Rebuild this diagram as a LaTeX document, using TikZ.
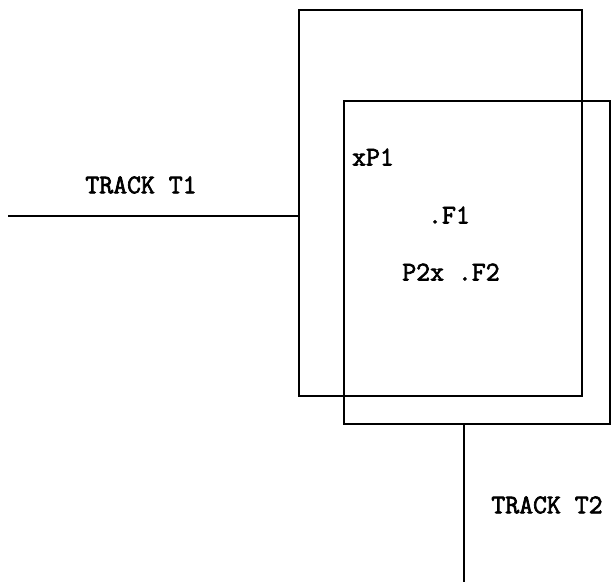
\documentclass[tikz,border=0pt]{standalone}
\usepackage{fontspec}
\setmonofont{Latin Modern Mono}[BoldFont={Latin Modern Mono}, BoldFeatures={FakeBold=2.5}]
\usetikzlibrary{positioning}

\begin{document}
\begin{tikzpicture}[
        x=1pt, y=-1pt,
        region/.style={rectangle, draw, line width=2.2pt, inner sep=0pt},
        track/.style={line width=2.2pt},
        lbl/.style={font=\fontsize{27}{30}\selectfont\ttfamily\bfseries, inner sep=0pt}
    ]
        \useasboundingbox (0,0) rectangle (611,586);
        % Regions
        \node[region, minimum width=283pt, minimum height=386pt] (outer) at (440.5,203) {};
        \node[region, minimum width=266pt, minimum height=323pt] (inner) at (477,262.5) {};
        
        % Labels
        \node[lbl] (t1label) at (141,185) {TRACK T1};
        \node[lbl] (p1) at (373,157) {xP1};
        \node[lbl] (f1) at (449,215) {.F1};
        \node[lbl] (p2f2) at (451,272) {P2x .F2};
        \node[lbl] (t2label) at (547,505) {TRACK T2};
        
        % Tracks
        \coordinate (t1end) at (8,216);
        \coordinate (t2end) at (464,582);
        \draw[track] (t1end) -- (t1end -| outer.west);
        \draw[track] (t2end |- inner.south) -- (t2end);
    \end{tikzpicture}
\end{document}
